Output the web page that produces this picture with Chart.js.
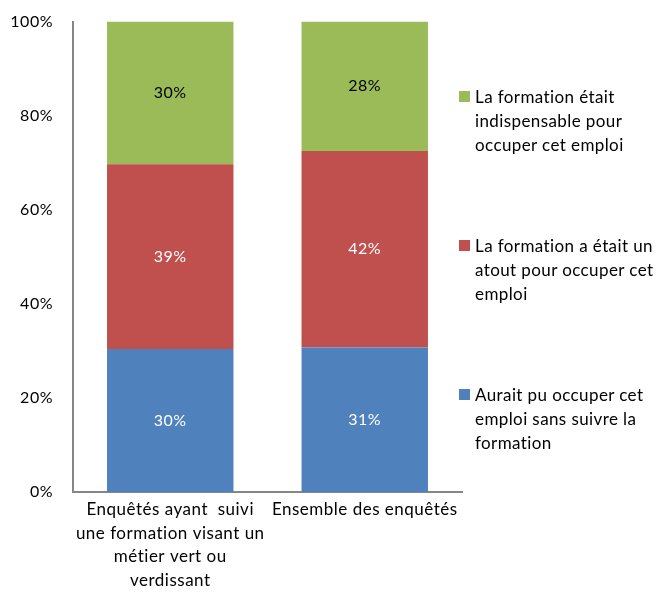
<!DOCTYPE html>
<html>
<head>
<meta charset="utf-8">
<script src="https://cdn.jsdelivr.net/npm/chart.js@4/dist/chart.umd.min.js"></script>
<style>
    body { margin: 0; background: #fff; }
    #wrap { position: relative; width: 661px; height: 597px; }
    #legend { position: absolute; left: 459px; top: 0; font-family: Lato, sans-serif; font-size: 17px; letter-spacing: 0.4px; color: #000; }
    .item { position: absolute; left: 0; width: 202px; }
    .box { position: absolute; left: 0; top: 6px; width: 11px; height: 11px; }
    .txt { position: absolute; left: 16px; line-height: 24px; white-space: nowrap; }
</style>
</head>
<body>
<div id="wrap">
    <canvas id="chart" width="661" height="597"></canvas>
    <div id="legend"></div>
</div>
<script>
// Categories (x axis), one entry per line
const categories = [
    ['Enquêtés ayant  suivi', 'une formation visant un', 'métier vert ou', 'verdissant'],
    ['Ensemble des enquêtés']
];

// Series, bottom to top
const seriesNames = [
    ['Aurait pu occuper cet', 'emploi sans suivre la', 'formation'],
    ['La formation a était un', 'atout pour occuper cet', 'emploi'],
    ['La formation était', 'indispensable pour', 'occuper cet emploi']
];
const seriesColors = ['#4F81BD', '#C0504D', '#9BBB59'];
const labelColors = ['#ffffff', '#ffffff', '#000000'];

const sansFormation = [30.4, 30.7];
const atout = [39.3, 41.8];
const indispensable = [30.3, 27.5];
const seriesValues = [sansFormation, atout, indispensable];

const yTicks = [0, 20, 40, 60, 80, 100];

const FONT = 'Lato, sans-serif';

// Slightly wider text, closer to the original rendering
const spacing = {
    id: 'spacing',
    beforeDraw(chart) { chart.ctx.letterSpacing = '0.5px'; }
};

// Draws the value in the middle of each segment
const valueLabels = {
    id: 'valueLabels',
    afterDatasetsDraw(chart) {
        const ctx = chart.ctx;
        ctx.save();
        ctx.letterSpacing = '0.5px';
        ctx.font = '16px ' + FONT;
        ctx.textAlign = 'center';
        ctx.textBaseline = 'middle';
        chart.data.datasets.forEach((ds, i) => {
            chart.getDatasetMeta(i).data.forEach((bar, j) => {
                const p = bar.getProps(['x', 'y', 'base'], true);
                ctx.fillStyle = labelColors[i];
                ctx.fillText(Math.round(ds.data[j]) + '%', p.x, (p.y + p.base) / 2);
            });
        });
        ctx.restore();
    }
};

new Chart(document.getElementById('chart'), {
    type: 'bar',
    data: {
        labels: categories,
        datasets: seriesValues.map((vals, i) => ({
            label: seriesNames[i].join(' '),
            data: vals,
            backgroundColor: seriesColors[i],
            borderWidth: 0,
            categoryPercentage: 1,
            barPercentage: 0.65
        }))
    },
    options: {
        responsive: false,
        animation: false,
        layout: { padding: { top: 10, right: 199, left: 0, bottom: 0 } },
        plugins: {
            legend: { display: false },
            tooltip: { enabled: false }
        },
        scales: {
            x: {
                stacked: true,
                grid: { display: false },
                border: { display: true, color: '#868686', width: 2 },
                ticks: {
                    color: '#000',
                    font: { family: FONT, size: 17, lineHeight: 1.38 },
                    maxRotation: 0,
                    autoSkip: false,
                    padding: -2
                },
                afterFit: s => { s.height = 105; }
            },
            y: {
                stacked: true,
                min: 0,
                max: 100,
                grid: { display: false },
                border: { display: true, color: '#868686', width: 2 },
                afterBuildTicks: s => { s.ticks = yTicks.map(v => ({ value: v })); },
                ticks: {
                    color: '#000',
                    font: { family: FONT, size: 16 },
                    padding: 12,
                    callback: v => v + '%'
                },
                afterFit: s => { s.width = 73; }
            }
        }
    },
    plugins: [spacing, valueLabels]
});

// Legend, top to bottom in reverse series order
const legend = document.getElementById('legend');
[2, 1, 0].forEach((i, k) => {
    const item = document.createElement('div');
    item.className = 'item';
    item.style.top = (85 + k * 149) + 'px';
    const box = document.createElement('div');
    box.className = 'box';
    box.style.background = seriesColors[i];
    const txt = document.createElement('div');
    txt.className = 'txt';
    txt.innerHTML = seriesNames[i].join('<br>');
    item.appendChild(box);
    item.appendChild(txt);
    legend.appendChild(item);
});
</script>
</body>
</html>
